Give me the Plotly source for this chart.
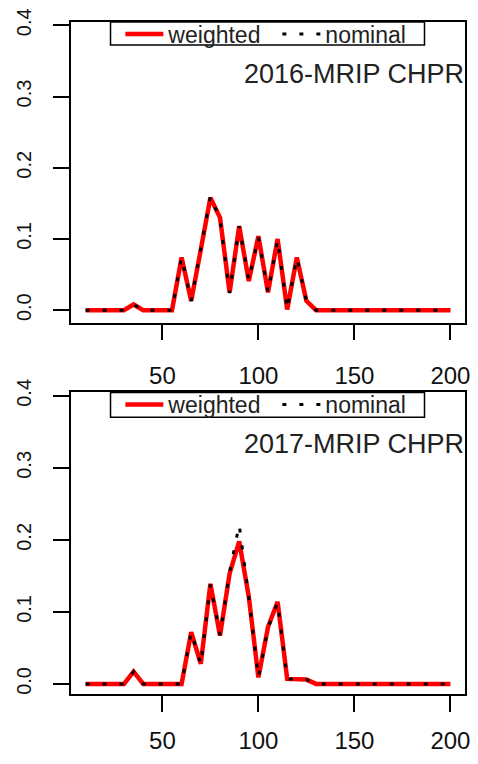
import plotly.graph_objects as go

# ---- data ----
lengths = list(range(10, 205, 5))

w2016 = [0, 0, 0, 0, 0, 0.008, 0, 0, 0, 0,
         0.074, 0.013, 0.085, 0.158, 0.13, 0.025, 0.118, 0.041, 0.104, 0.025,
         0.10, 0.001, 0.074, 0.013, 0,
         0, 0, 0, 0, 0, 0, 0, 0, 0, 0, 0, 0, 0, 0]
n2016 = [0, 0, 0, 0, 0, 0.008, 0, 0, 0, 0,
         0.074, 0.013, 0.087, 0.160, 0.128, 0.024, 0.118, 0.042, 0.103, 0.025,
         0.099, 0.001, 0.074, 0.013, 0,
         0, 0, 0, 0, 0, 0, 0, 0, 0, 0, 0, 0, 0, 0]

w2017 = [0, 0, 0, 0, 0, 0.017, 0, 0, 0, 0,
         0, 0.072, 0.028, 0.139, 0.067, 0.153, 0.198, 0.121, 0.009, 0.079,
         0.114, 0.007, 0.007, 0.006, 0,
         0, 0, 0, 0, 0, 0, 0, 0, 0, 0, 0, 0, 0, 0]
n2017 = [0, 0, 0, 0, 0, 0.017, 0, 0, 0, 0,
         0, 0.072, 0.027, 0.138, 0.068, 0.155, 0.221, 0.120, 0.009, 0.078,
         0.113, 0.007, 0.007, 0.006, 0,
         0, 0, 0, 0, 0, 0, 0, 0, 0, 0, 0, 0, 0, 0]

panel_titles = ["2016-MRIP CHPR", "2017-MRIP CHPR"]
x_ticks = [50, 100, 150, 200]
y_ticks = [0.0, 0.1, 0.2, 0.3, 0.4]
y_tick_text = ["0.0", "0.1", "0.2", "0.3", "0.4"]

FONT = "Liberation Sans, Arial, sans-serif"
RED = "#ff0000"

fig = go.Figure()

for i, (w, n) in enumerate([(w2016, n2016), (w2017, n2017)]):
    xa = "x" if i == 0 else "x2"
    ya = "y" if i == 0 else "y2"
    lg = "legend" if i == 0 else "legend2"
    fig.add_trace(go.Scatter(x=lengths, y=w, mode="lines", name="weighted",
                             line=dict(color=RED, width=4.5),
                             xaxis=xa, yaxis=ya, legend=lg))
    fig.add_trace(go.Scatter(x=lengths, y=n, mode="lines", name="nominal",
                             line=dict(color="black", width=3, dash="4px,13px"),
                             xaxis=xa, yaxis=ya, legend=lg))

axis_common = dict(showline=True, linecolor="black", linewidth=1.5, mirror=True,
                   showgrid=False, zeroline=False, ticks="outside", ticklen=16,
                   tickwidth=1.5, tickcolor="black")

top_dom = [0.5527, 1.0]
bot_dom = [0.0, 0.4487]

xfont = dict(family=FONT, size=24, color="#111")
yfont = dict(family=FONT, size=20, color="#111")

legend_common = dict(orientation="h", x=0.1253, xanchor="left", yanchor="middle",
                     borderwidth=0, bgcolor="rgba(0,0,0,0)",
                     font=dict(family=FONT, size=23, color="#222"), itemwidth=38,
                     entrywidth=104, entrywidthmode="pixels", tracegroupgap=0)

fig.update_layout(
    width=478, height=764,
    margin=dict(l=71, r=8, t=21, b=70),
    paper_bgcolor="white", plot_bgcolor="white",
    showlegend=True,
    xaxis=dict(domain=[0, 1], anchor="y", range=[2.4, 207.6], tickvals=x_ticks,
               tickfont=xfont, ticklabelstandoff=15, **axis_common),
    yaxis=dict(domain=top_dom, anchor="x", range=[-0.0174, 0.4046],
               tickvals=y_ticks, ticktext=y_tick_text, tickangle=-90,
               tickfont=yfont, ticklabelstandoff=14, **axis_common),
    xaxis2=dict(domain=[0, 1], anchor="y2", range=[2.4, 207.6], tickvals=x_ticks,
                tickfont=xfont, ticklabelstandoff=8, **axis_common),
    yaxis2=dict(domain=bot_dom, anchor="x2", range=[-0.014, 0.4047],
                tickvals=y_ticks, ticktext=y_tick_text, tickangle=-90,
                tickfont=yfont, ticklabelstandoff=14, **axis_common),
    legend=dict(y=0.9822, **legend_common),
    legend2=dict(y=0.4309, **legend_common),
)

# legend frames (R-style compact boxes)
fig.add_shape(type="rect", xref="x domain", yref="y domain",
              x0=0.1003, x1=0.8972, y0=0.9236, y1=1.0,
              line=dict(color="black", width=1.5), fillcolor="rgba(0,0,0,0)", layer="above")
fig.add_shape(type="rect", xref="x2 domain", yref="y2 domain",
              x0=0.1003, x1=0.8972, y0=0.918, y1=1.0,
              line=dict(color="black", width=1.5), fillcolor="rgba(0,0,0,0)", layer="above")

for i, t in enumerate(panel_titles):
    yref = "y domain" if i == 0 else "y2 domain"
    xref = "x domain" if i == 0 else "x2 domain"
    fig.add_annotation(text=t, x=1.0, y=0.828, xref=xref, yref=yref,
                       xanchor="right", yanchor="middle", showarrow=False,
                       xshift=1,
                       font=dict(family=FONT, size=27, color="#222"))

fig.write_html("out.html")
